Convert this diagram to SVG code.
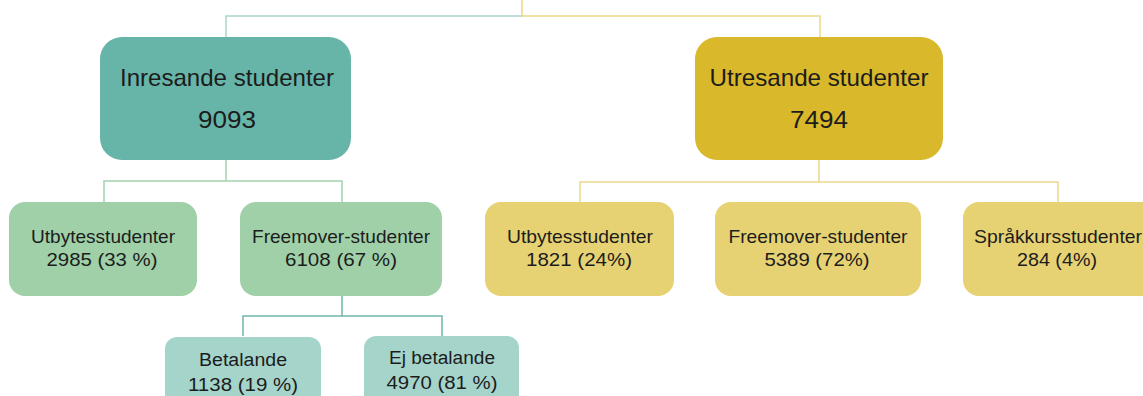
<svg xmlns="http://www.w3.org/2000/svg" width="1143" height="396" viewBox="0 0 1143 396">
<style>
text{font-family:"Liberation Sans",Arial,sans-serif;fill:#1c1c1c;text-anchor:middle}
.t1{font-size:24px}
.t2{font-size:19px}
.t3{font-size:18px}
.lt{stroke:#a9d6cd;stroke-width:1.5;fill:none}
.lg{stroke:#a3d2ae;stroke-width:1.5;fill:none}
.ld{stroke:#6fb6a9;stroke-width:1.5;fill:none}
.ly{stroke:#ecd88a;stroke-width:1.5;fill:none}
</style>
<rect width="1143" height="396" fill="#ffffff"/>
<g id="connectors">
<path class="ly" d="M522 0V16H820V37"/>
<path class="lt" d="M522 16H226V37"/>
<path class="lg" d="M226 160V181M104 202V181H342V202"/>
<path class="ly" d="M819 160V182M580 202V182H1058V202"/>
<path class="ld" d="M342 296V316M243 336V316H442V336"/>
</g>
<g id="inresande">
<rect x="100" y="37" width="251" height="123" rx="22" fill="#67b5a8"/>
<text class="t1" x="227" y="86" textLength="214" lengthAdjust="spacingAndGlyphs">Inresande studenter</text>
<text class="t1" x="227" y="128" textLength="58" lengthAdjust="spacingAndGlyphs">9093</text>
</g>
<g id="utresande">
<rect x="695" y="37" width="248" height="123" rx="22" fill="#d9b82b"/>
<text class="t1" x="819" y="86" textLength="219" lengthAdjust="spacingAndGlyphs">Utresande studenter</text>
<text class="t1" x="819" y="128" textLength="58" lengthAdjust="spacingAndGlyphs">7494</text>
</g>
<g id="in-utbytes">
<rect x="9" y="202" width="188" height="94" rx="16" fill="#9fd0a8"/>
<text class="t2" x="103" y="243" textLength="144" lengthAdjust="spacingAndGlyphs">Utbytesstudenter</text>
<text class="t2" x="102" y="266" textLength="111" lengthAdjust="spacingAndGlyphs">2985 (33 %)</text>
</g>
<g id="in-freemover">
<rect x="240" y="202" width="202" height="94" rx="16" fill="#9fd0a8"/>
<text class="t2" x="341" y="243" textLength="178" lengthAdjust="spacingAndGlyphs">Freemover-studenter</text>
<text class="t2" x="341" y="266" textLength="112" lengthAdjust="spacingAndGlyphs">6108 (67 %)</text>
</g>
<g id="betalande">
<rect x="165" y="337" width="156" height="80" rx="12" fill="#a5d4cb"/>
<text class="t3" x="243" y="366" textLength="88" lengthAdjust="spacingAndGlyphs">Betalande</text>
<text class="t3" x="243" y="391" textLength="110" lengthAdjust="spacingAndGlyphs">1138 (19 %)</text>
</g>
<g id="ej-betalande">
<rect x="364" y="336" width="155" height="80" rx="12" fill="#a5d4cb"/>
<text class="t3" x="442" y="364" textLength="106" lengthAdjust="spacingAndGlyphs">Ej betalande</text>
<text class="t3" x="442" y="389" textLength="111" lengthAdjust="spacingAndGlyphs">4970 (81 %)</text>
</g>
<g id="ut-utbytes">
<rect x="485" y="202" width="189" height="94" rx="16" fill="#e6d273"/>
<text class="t2" x="580" y="243" textLength="146" lengthAdjust="spacingAndGlyphs">Utbytesstudenter</text>
<text class="t2" x="579" y="266" textLength="106" lengthAdjust="spacingAndGlyphs">1821 (24%)</text>
</g>
<g id="ut-freemover">
<rect x="715" y="202" width="206" height="94" rx="16" fill="#e6d273"/>
<text class="t2" x="818" y="243" textLength="179" lengthAdjust="spacingAndGlyphs">Freemover-studenter</text>
<text class="t2" x="817" y="266" textLength="105" lengthAdjust="spacingAndGlyphs">5389 (72%)</text>
</g>
<g id="ut-sprakkurs">
<rect x="963" y="202" width="196" height="94" rx="16" fill="#e6d273"/>
<text class="t2" x="1058" y="243" textLength="168" lengthAdjust="spacingAndGlyphs">Språkkursstudenter</text>
<text class="t2" x="1057" y="266" textLength="80" lengthAdjust="spacingAndGlyphs">284 (4%)</text>
</g>
</svg>
